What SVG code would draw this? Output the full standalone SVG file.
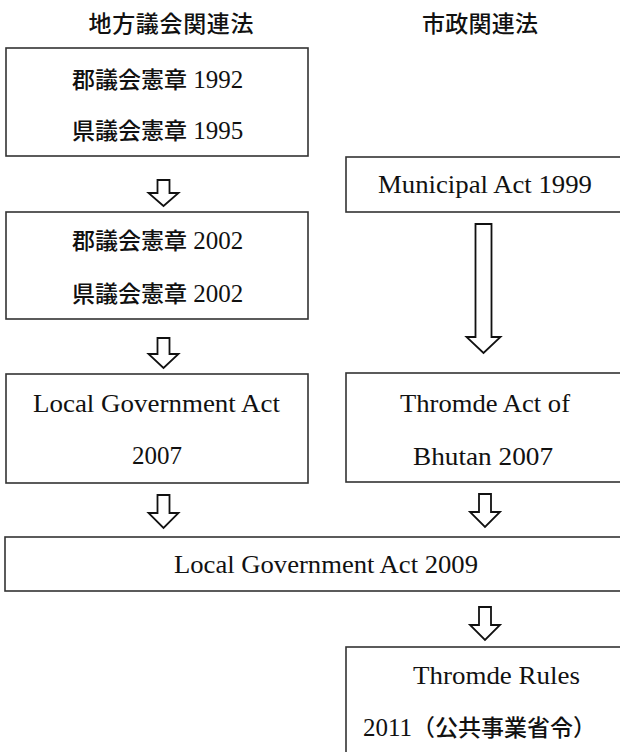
<svg xmlns="http://www.w3.org/2000/svg" width="620" height="752" viewBox="0 0 620 752">
<style>
.box{fill:#fff;stroke:#333;stroke-width:1.6}
.arr{fill:#fff;stroke:#111;stroke-width:1.8;stroke-linejoin:miter}
.t{font-family:'Liberation Serif','Noto Sans CJK JP',serif;font-size:25px;fill:#111;text-anchor:middle}
.j{font-family:'Noto Sans CJK JP',sans-serif;font-size:23px;font-weight:500}
.h{font-family:'Noto Sans CJK JP',sans-serif;font-size:23px;font-weight:500;fill:#111;text-anchor:middle}
</style>
<rect width="620" height="752" fill="#fff"/>
<text class="h" x="171" y="32" textLength="165" lengthAdjust="spacing">地方議会関連法</text>
<text class="h" x="480" y="32" textLength="116" lengthAdjust="spacing">市政関連法</text>
<g id="n1">
<rect class="box" x="6" y="48" width="302" height="108"/>
<text class="t" x="157.5" y="88"><tspan class="j">郡議会憲章</tspan> 1992</text>
<text class="t" x="157.5" y="139"><tspan class="j">県議会憲章</tspan> 1995</text>
</g>
<g id="n2">
<rect class="box" x="6" y="212" width="302" height="107"/>
<text class="t" x="157.5" y="249"><tspan class="j">郡議会憲章</tspan> 2002</text>
<text class="t" x="157.5" y="302"><tspan class="j">県議会憲章</tspan> 2002</text>
</g>
<g id="n3">
<rect class="box" x="6" y="374" width="302" height="109"/>
<text class="t" x="156.5" y="412" textLength="247" lengthAdjust="spacingAndGlyphs">Local Government Act</text>
<text class="t" x="157" y="464" textLength="50" lengthAdjust="spacingAndGlyphs">2007</text>
</g>
<g id="n4">
<rect class="box" x="346" y="157" width="290" height="55"/>
<text class="t" x="485" y="193" textLength="214" lengthAdjust="spacingAndGlyphs">Municipal Act 1999</text>
</g>
<g id="n5">
<rect class="box" x="346" y="373" width="290" height="109"/>
<text class="t" x="485" y="412" textLength="170" lengthAdjust="spacingAndGlyphs">Thromde Act of</text>
<text class="t" x="483" y="465" textLength="140" lengthAdjust="spacingAndGlyphs">Bhutan 2007</text>
</g>
<g id="n6">
<rect class="box" x="5" y="537" width="640" height="54"/>
<text class="t" x="326" y="573" textLength="304" lengthAdjust="spacingAndGlyphs">Local Government Act 2009</text>
</g>
<g id="n7">
<rect class="box" x="346" y="647" width="290" height="120"/>
<text class="t" x="496.5" y="684" textLength="167" lengthAdjust="spacingAndGlyphs">Thromde Rules</text>
<text class="t" x="363" y="736" style="text-anchor:start">2011<tspan class="j">（公共事業省令）</tspan></text>
</g>
<g id="connectors">
<polygon class="arr" points="157.5,180 169.5,180 169.5,193 178.5,193 163.5,206 148.5,193 157.5,193"/>
<polygon class="arr" points="157.5,338 169.5,338 169.5,354 178.5,354 163.5,368 148.5,354 157.5,354"/>
<polygon class="arr" points="157.5,495 169.5,495 169.5,513 178.5,513 163.5,528 148.5,513 157.5,513"/>
<polygon class="arr" points="475.5,224 491.5,224 491.5,337 500.5,337 483.5,353 466.5,337 475.5,337"/>
<polygon class="arr" points="479,494 491,494 491,512 500,512 485,527 470,512 479,512"/>
<polygon class="arr" points="479,607 491,607 491,625 500,625 485,640 470,625 479,625"/>
</g>
</svg>
